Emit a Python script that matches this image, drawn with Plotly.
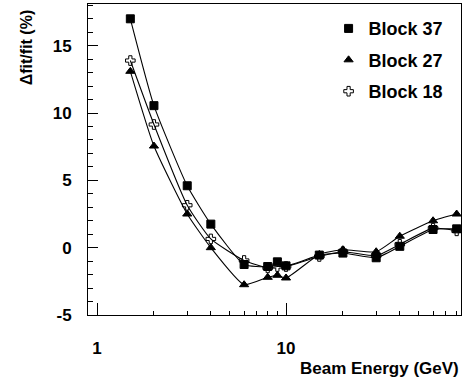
import plotly.graph_objects as go

energy = [1.5, 2, 3, 4, 6, 8, 9, 10, 15, 20, 30, 40, 60, 80]
block37 = [17.0, 10.55, 4.6, 1.75, -1.25, -1.4, -1.05, -1.35, -0.55, -0.4, -0.75, 0.1, 1.35, 1.4]
block27 = [13.1, 7.55, 2.5, 0.0, -2.75, -2.2, -2.05, -2.25, -0.5, -0.15, -0.3, 0.85, 2.0, 2.5]
block18 = [13.9, 9.15, 3.15, 0.65, -0.95, -1.5, -1.4, -1.4, -0.65, -0.3, -0.6, 0.25, 1.45, 1.25]
names = ["Block 37", "Block 27", "Block 18"]
series = [block37, block27, block18]
symbols = ["square", "triangle-up", "cross-open"]
sizes = [8, 8, 8]

x_major = [1, 10, 100]
x_major_labels = ["1", "10", "100"]
x_minor = [2, 3, 4, 5, 6, 7, 8, 9, 20, 30, 40, 50, 60, 70, 80, 90]
y_major = [-5, 0, 5, 10, 15]
y_major_labels = ["-5", "0", "5", "10", "15"]

FONT = "Liberation Sans, Arial, Helvetica, sans-serif"

fig = go.Figure()
for i, (name, ys) in enumerate(zip(names, series)):
    fig.add_trace(go.Scatter(
        x=energy, y=ys, mode="lines", showlegend=False,
        line=dict(color="black", width=1.1, shape="spline", smoothing=0.5),
        hoverinfo="skip"))
for i, (name, ys) in enumerate(zip(names, series)):
    fig.add_trace(go.Scatter(
        x=energy, y=ys, mode="markers", name=name, legendgroup=name,
        marker=dict(symbol=symbols[i], size=sizes[i], color="black",
                    line=dict(color="black", width=1))))

fig.update_layout(
    width=470, height=381,
    margin=dict(l=88, r=9, t=4, b=66),
    paper_bgcolor="white", plot_bgcolor="white",
    font=dict(family=FONT, size=17, color="black"),
    showlegend=True,
    legend=dict(x=0.645, y=0.98, xanchor="left", yanchor="top",
                bgcolor="rgba(0,0,0,0)", borderwidth=0,
                font=dict(family=FONT, size=18, color="black", weight="bold"),
                tracegroupgap=5, itemsizing="trace"),
    xaxis=dict(type="log", range=[-0.048, 1.926],
               tickmode="array", tickvals=x_major,
               ticktext=["<b>%s</b>" % t for t in x_major_labels],
               ticks="inside", ticklen=12, tickwidth=1, tickcolor="black",
               minor=dict(ticks="inside", ticklen=4, tickvals=x_minor, tickcolor="black", tickwidth=1),
               showline=True, linecolor="black", linewidth=1, mirror=True,
               showgrid=False, zeroline=False,
               tickfont=dict(family=FONT, size=17),
               ticklabelstandoff=18),
    yaxis=dict(range=[-5, 18.1], tickmode="array", tickvals=y_major,
               ticktext=["<b>%s</b>" % t for t in y_major_labels],
               ticks="inside", ticklen=10, tickwidth=1, tickcolor="black",
               minor=dict(ticks="inside", ticklen=5, dtick=1, tick0=0, tickcolor="black", tickwidth=1),
               showline=True, linecolor="black", linewidth=1, mirror=True,
               showgrid=False, zeroline=False,
               tickfont=dict(family=FONT, size=17),
               ticklabelstandoff=12),
    annotations=[
        dict(text="<b>Beam Energy (GeV)</b>", xref="paper", yref="paper",
             x=1.0, y=-0.135, xanchor="right", yanchor="top", showarrow=False,
             font=dict(family=FONT, size=17)),
        dict(text="<b>Δfit/fit (%)</b>", xref="paper", yref="paper",
             x=-0.166, y=0.985, xanchor="center", yanchor="top", showarrow=False,
             textangle=-90, font=dict(family=FONT, size=16)),
    ],
)

fig.write_html("out.html", config={"displayModeBar": False},
               post_script="document.body.style.margin='0px';")
